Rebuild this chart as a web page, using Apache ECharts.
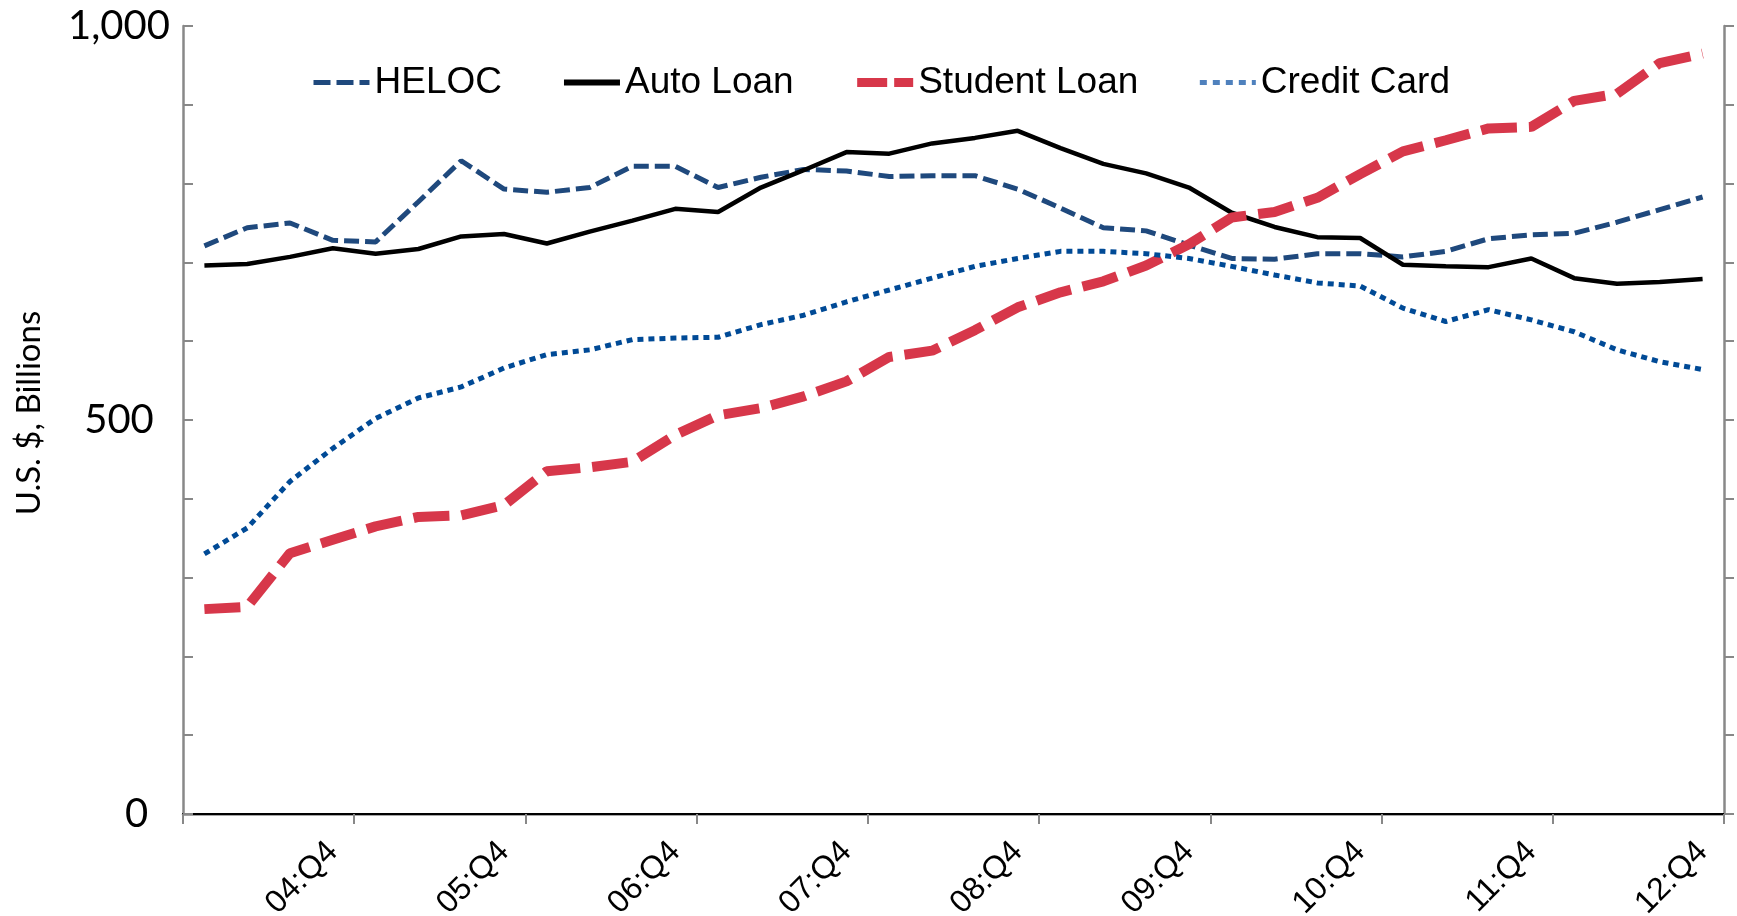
<!DOCTYPE html>
<html>
<head>
<meta charset="utf-8">
<script src="https://cdn.jsdelivr.net/npm/echarts@6/dist/echarts.min.js"></script>
<style>
  html, body { margin: 0; padding: 0; background: #ffffff; }
  #chart { width: 1737px; height: 916px; }
</style>
</head>
<body>
<div id="chart"></div>
<script>
// Quarterly categories, 2004:Q1 through 2012:Q4
const years = ['04', '05', '06', '07', '08', '09', '10', '11', '12'];
const quarters = ['Q1', 'Q2', 'Q3', 'Q4'];
const categories = [];
years.forEach(y => quarters.forEach(q => categories.push(y + ':' + q)));

// Outstanding balances, U.S. $ billions
const heloc = [721, 744, 750, 728, 726, 777, 829, 793, 789, 795, 822, 822,
               795, 808, 818, 816, 809, 810, 810, 793, 769, 744, 740, 722,
               705, 704, 711, 711, 707, 714, 730, 735, 737, 751, 767, 783];
const autoLoan = [696, 698, 707, 718, 711, 717, 733, 736, 724, 739, 753, 768,
                  764, 795, 817, 840, 838, 851, 858, 867, 845, 825, 813, 795,
                  763, 745, 732, 731, 697, 695, 694, 705, 680, 673, 675, 679];
const studentLoan = [260, 263, 331, 348, 365, 377, 379, 392, 435, 440, 447, 481,
                     506, 515, 530, 549, 580, 588, 614, 643, 662, 676, 696, 723,
                     757, 764, 782, 812, 841, 855, 870, 872, 905, 914, 953, 965];
const creditCard = [330, 363, 422, 464, 502, 528, 542, 566, 583, 589, 602, 604,
                    605, 621, 633, 650, 665, 680, 695, 705, 714, 714, 711, 705,
                    695, 684, 674, 670, 642, 625, 640, 627, 612, 589, 574, 564];

// Labelled values on the left axis
const yLabelValues = [0, 500, 1000];

const GRAY = '#888888';
const chart = echarts.init(document.getElementById('chart'), null, { renderer: 'canvas' });

// Legend entries draw only the line sample, no marker
const noMarker = { opacity: 0, borderWidth: 0 };

const option = {
  animation: false,
  backgroundColor: '#ffffff',
  grid: { left: 183, right: 13, top: 26, bottom: 102, containLabel: false, outerBoundsMode: 'none' },
  legend: {
    left: 311,
    top: 64,
    padding: 0,
    itemWidth: 56,
    itemHeight: 14,
    itemGap: 59,
    itemStyle: noMarker,
    textStyle: { fontFamily: 'Liberation Sans', fontSize: 37, color: '#000000' },
    data: [
      { name: 'HELOC', itemStyle: noMarker, lineStyle: { width: 5, type: [17, 6] } },
      { name: 'Auto Loan', itemStyle: noMarker, lineStyle: { width: 6 } },
      { name: 'Student Loan', itemStyle: noMarker, lineStyle: { width: 9, type: [30, 7] } },
      { name: 'Credit Card', itemStyle: noMarker, lineStyle: { width: 5, type: [7, 6], color: '#4F81BD' } }
    ]
  },
  xAxis: [
    {
      type: 'category',
      position: 'bottom',
      data: categories,
      boundaryGap: true,
      axisLine: { show: true, lineStyle: { color: GRAY, width: 2.5 } },
      axisTick: { show: true, interval: 3, length: 10, lineStyle: { color: GRAY, width: 2 } },
      axisLabel: {
        interval: (i) => i % 4 === 3,
        rotate: 45,
        margin: 33,
        fontFamily: 'Liberation Sans',
        fontSize: 32,
        color: '#000000'
      },
      splitLine: { show: false }
    },
    {
      type: 'category',
      position: 'top',
      data: categories,
      boundaryGap: true,
      axisLine: { show: true, lineStyle: { color: '#000000', width: 2 } },
      axisTick: { show: false },
      axisLabel: { show: false },
      splitLine: { show: false }
    }
  ],
  yAxis: [
    {
      type: 'value',
      position: 'left',
      min: 0,
      max: 1000,
      interval: 100,
      name: 'U.S. $, Billions',
      nameLocation: 'middle',
      nameGap: 137,
      nameTextStyle: { fontFamily: 'Lato', fontSize: 33, color: '#000000', padding: [0, 0, 0, 14] },
      axisLine: { show: true, lineStyle: { color: GRAY, width: 2.5 } },
      axisTick: { show: true, inside: true, length: 10, lineStyle: { color: GRAY, width: 2 } },
      axisLabel: {
        show: true,
        margin: 64,
        align: 'center',
        formatter: (v) => {
          if (yLabelValues.indexOf(v) < 0) return '';
          const txt = v === 1000 ? '1,000' : String(v);
          return v === 0 ? '{z|' + txt + '}' : '{n|' + txt + '}';
        },
        rich: {
          n: { fontFamily: 'Lato', fontSize: 40, color: '#000000' },
          z: { fontFamily: 'Lato', fontSize: 40, color: '#000000', padding: [0, 0, 0, 35] }
        }
      },
      splitLine: { show: false }
    },
    {
      type: 'value',
      position: 'right',
      min: 0,
      max: 1000,
      interval: 100,
      axisLine: { show: true, lineStyle: { color: GRAY, width: 2.5 } },
      axisTick: { show: true, inside: false, length: 10, lineStyle: { color: GRAY, width: 2 } },
      axisLabel: { show: false },
      splitLine: { show: false }
    }
  ],
  series: [
    {
      name: 'HELOC', type: 'line', data: heloc, symbol: 'none',
      itemStyle: { color: '#1F497D' },
      lineStyle: { color: '#1F497D', width: 5, type: [15, 6], cap: 'butt' }
    },
    {
      name: 'Auto Loan', type: 'line', data: autoLoan, symbol: 'none',
      itemStyle: { color: '#000000' },
      lineStyle: { color: '#000000', width: 4.5, cap: 'butt' }
    },
    {
      name: 'Student Loan', type: 'line', data: studentLoan, symbol: 'none',
      itemStyle: { color: '#D7374A' },
      lineStyle: { color: '#D7374A', width: 10, type: [36, 12], cap: 'butt' }
    },
    {
      name: 'Credit Card', type: 'line', data: creditCard, symbol: 'none',
      itemStyle: { color: '#004A96' },
      lineStyle: { color: '#004A96', width: 5, type: [6, 5], cap: 'butt' }
    }
  ]
};

chart.setOption(option);
</script>
</body>
</html>
